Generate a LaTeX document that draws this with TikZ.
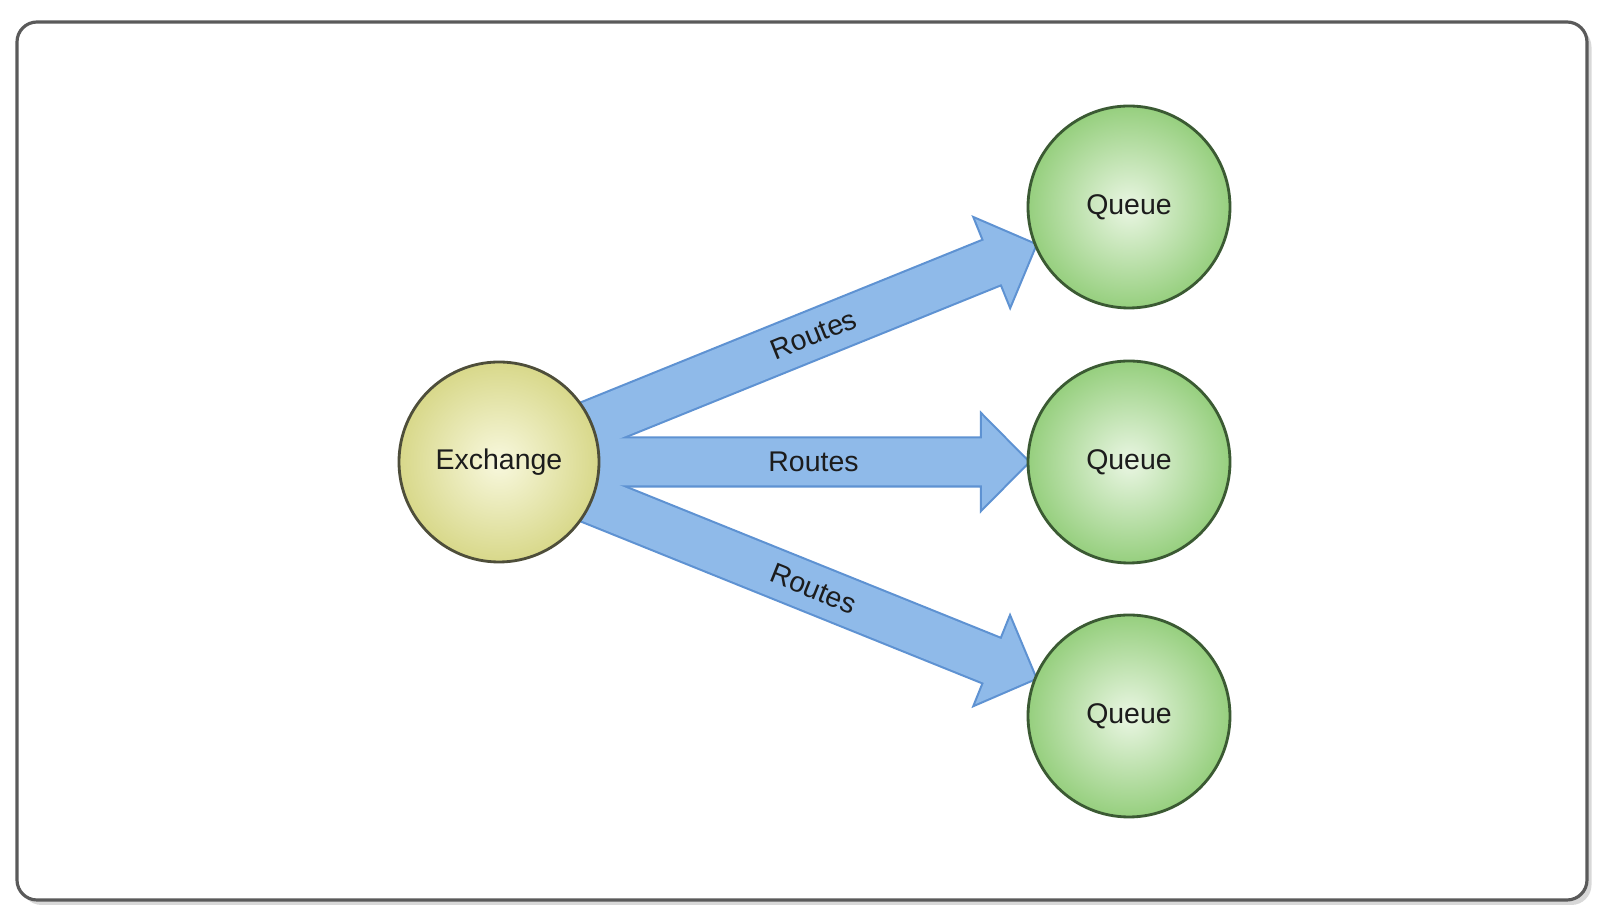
\documentclass[tikz,border=0pt]{standalone}
\usepackage{fontspec}
\setmainfont{Liberation Sans}
\usetikzlibrary{calc,shadows}
\definecolor{exin}{HTML}{F8F8DE}
\definecolor{exout}{HTML}{D8D88A}
\definecolor{exline}{HTML}{4E4E3A}
\definecolor{qin}{HTML}{EAF6E3}
\definecolor{qout}{HTML}{96CF7E}
\definecolor{qline}{HTML}{3B5A33}
\definecolor{arrowfill}{HTML}{8FBAE9}
\definecolor{arrowline}{HTML}{5E92D2}
\definecolor{txt}{HTML}{1C1C1C}
\definecolor{frameline}{HTML}{5A5A5A}
\pgfdeclarelayer{framelayer}
\pgfdeclarelayer{arrows}
\pgfsetlayers{framelayer,arrows,main}
\def\qrad{1.01cm}
\tikzset{
    frame/.style={draw=frameline, line width=0.9pt, rounded corners=0.2cm, fill=white,
        drop shadow={shadow xshift=0.45mm, shadow yshift=-0.5mm, opacity=0.3}},
    exchange/.style={circle, draw=exline, line width=0.8pt, minimum size=2cm,
        inner color=exin, outer color=exout, text=txt},
    queue/.style={circle, draw=qline, line width=0.8pt, minimum size=2.02cm,
        inner color=qin, outer color=qout, text=txt},
    routeshape/.style={to path={
        let \p1=(\tikztostart.center),
            \p2=($(\tikztotarget.center)!\qrad!(\tikztostart.center)$),
            \n1={atan2(\y2-\y1,\x2-\x1)} in
        ($(\p1)+(\n1+90:0.235)$) -- ($(\p2)+(\n1+180:0.46)+(\n1+90:0.235)$)
        -- ($(\p2)+(\n1+180:0.46)+(\n1+90:0.465)$) -- (\p2)
        -- ($(\p2)+(\n1+180:0.46)+(\n1-90:0.465)$)
        -- ($(\p2)+(\n1+180:0.46)+(\n1-90:0.235)$)
        -- ($(\p1)+(\n1-90:0.235)$) -- cycle}},
    routeedge/.style={routeshape, draw=arrowline, line width=1.2pt, line join=miter},
    routefill/.style={routeshape, fill=arrowfill},
    routelabel/.style={midway, sloped, text=txt},
}
\begin{document}
\begin{tikzpicture}[font=\fontsize{8.1}{10}\selectfont]
    \begin{pgfonlayer}{framelayer}
        \useasboundingbox[fill=white] (0,0) rectangle (16.04,-9.22);
        \draw[frame] (0.17,-0.22) rectangle (15.87,-9.00);
    \end{pgfonlayer}

    % exchange and queues
    \node[exchange] (ex) at (4.99,-4.62) {Exchange};
    \node[queue] (q1) at (11.29,-2.07) {Queue};
    \node[queue] (q2) at (11.29,-4.62) {Queue};
    \node[queue] (q3) at (11.29,-7.16) {Queue};

    % fat arrows behind the circles
    \begin{pgfonlayer}{arrows}
        \foreach \q in {q1,q2,q3}
        {
            \draw[routeedge] (ex) to (\q);
        }
        \foreach \q in {q1,q2,q3}
        {
            \fill[routefill] (ex) to (\q);
        }
    \end{pgfonlayer}

    \foreach \q in {q1,q2,q3}
    {
        \path (ex) -- (\q) node[routelabel] {Routes};
    }
\end{tikzpicture}
\end{document}
